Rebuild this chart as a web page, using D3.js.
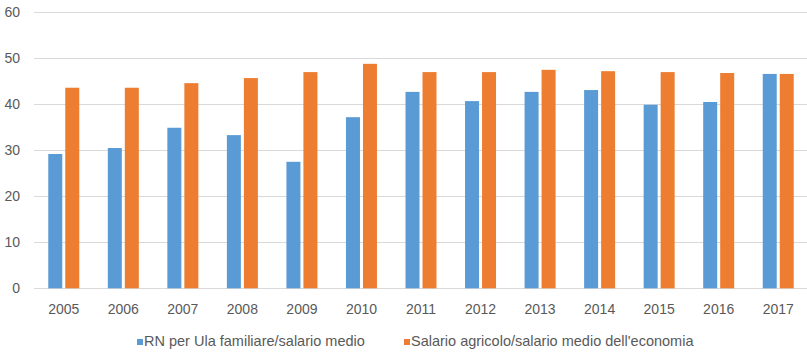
<!DOCTYPE html>
<html>
<head>
<meta charset="utf-8">
<script src="https://cdn.jsdelivr.net/npm/d3@7"></script>
<style>
  html, body { margin: 0; padding: 0; background: #fff; }
  svg { display: block; }
  text { font-family: "Liberation Sans", Arial, sans-serif; fill: #595959; }
</style>
</head>
<body>
<svg id="chart" width="807" height="356"></svg>
<script>
const years = ["2005","2006","2007","2008","2009","2010","2011","2012","2013","2014","2015","2016","2017"];
const rnUla = [29.2, 30.5, 34.9, 33.3, 27.5, 37.2, 42.7, 40.7, 42.7, 43.1, 39.9, 40.5, 46.6];
const salarioAgricolo = [43.6, 43.6, 44.6, 45.7, 47.0, 48.8, 47.0, 47.0, 47.5, 47.2, 47.0, 46.8, 46.6];
const seriesNames = ["RN per Ula familiare/salario medio", "Salario agricolo/salario medio dell'economia"];
const yTicks = [0, 10, 20, 30, 40, 50, 60];

(function () {
const colors = ["#5B9BD5", "#ED7D31"];
const svg = d3.select("#chart");
const pLeft = 34, pRight = 808, pTop = 12.3, pBottom = 288.3;

const x = d3.scaleBand().domain(years).range([pLeft, pRight]).padding(0);
const y = d3.scaleLinear().domain([0, 60]).range([pBottom, pTop]);

// gridlines
svg.append("g").selectAll("line").data(yTicks).join("line")
  .attr("x1", pLeft).attr("x2", 807)
  .attr("y1", d => Math.round(y(d)) + 0.5).attr("y2", d => Math.round(y(d)) + 0.5)
  .attr("stroke", "#D9D9D9").attr("stroke-width", 1);

// y labels
svg.append("g").selectAll("text").data(yTicks).join("text")
  .attr("x", 20).attr("y", d => y(d) + 4.8)
  .attr("text-anchor", "end").attr("font-size", "14px")
  .text(d => d);

const bw = 14, gap = 3;
const series = [rnUla, salarioAgricolo];
series.forEach((vals, si) => {
  svg.append("g").selectAll("rect").data(years).join("rect")
    .attr("x", (d) => {
      const c = x(d) + x.bandwidth() / 2;
      return si === 0 ? c - gap / 2 - bw : c + gap / 2;
    })
    .attr("width", bw)
    .attr("y", (d, i) => y(vals[i]))
    .attr("height", (d, i) => y(0) - y(vals[i]))
    .attr("fill", colors[si]);
});

// x labels
svg.append("g").selectAll("text").data(years).join("text")
  .attr("x", d => x(d) + x.bandwidth() / 2)
  .attr("y", 313.5)
  .attr("text-anchor", "middle").attr("font-size", "14px")
  .text(d => d);

// legend
const legendX = [137, 404];
seriesNames.forEach((name, i) => {
  svg.append("rect").attr("x", legendX[i]).attr("y", 339).attr("width", 6).attr("height", 6).attr("fill", colors[i]);
  svg.append("text").attr("x", legendX[i] + 7).attr("y", 346).attr("font-size", "14.5px").text(name);
});
})();
</script>
</body>
</html>
